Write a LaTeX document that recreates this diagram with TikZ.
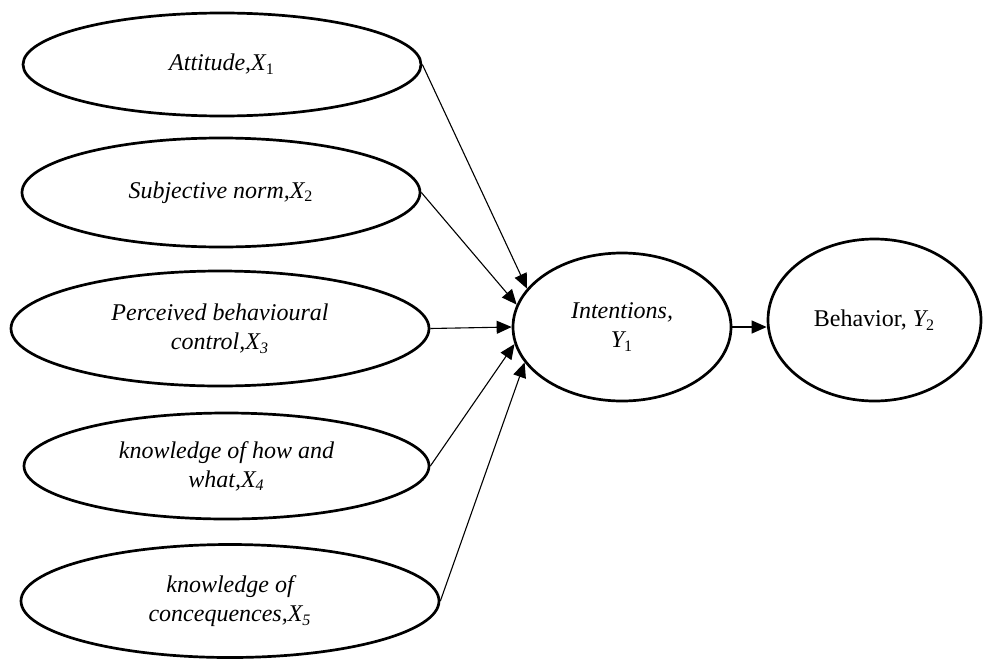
\documentclass[tikz,border=0pt]{standalone}
\usepackage{fontspec}
\setmainfont{Liberation Serif}
\usetikzlibrary{shapes.geometric,arrows.meta}

\begin{document}
\begin{tikzpicture}[x=0.5pt,y=-0.5pt,
    factor/.style={draw,ellipse,line width=1.35pt,inner sep=0pt,align=center,font=\fontsize{12}{14.5}\selectfont\itshape},
    link/.style={-{Triangle[length=7.5pt,width=6.5pt]},line width=0.55pt}]
    \useasboundingbox (0,0) rectangle (983,664);
    \node[factor,minimum width=199pt,minimum height=51.5pt] (att) at (222,64.5) {Attitude,X\textsubscript{\upshape 1}};
    \node[factor,minimum width=199pt,minimum height=54.5pt] (sub) at (221,192.5) {Subjective norm,X\textsubscript{\upshape 2}};
    \node[factor,minimum width=209pt,minimum height=57.5pt] (pbc) at (220,328.5) {Perceived behavioural\\control,X\textsubscript{3}};
    \node[factor,minimum width=202.5pt,minimum height=53pt] (kha) at (226.5,466) {knowledge of how and\\what,X\textsubscript{4}};
    \node[factor,minimum width=209pt,minimum height=56.5pt] (kco) at (230,601) {knowledge of\\concequences,X\textsubscript{5}};
    \node[factor,minimum width=109pt,minimum height=74pt] (int) at (622,327) {Intentions,\\Y\textsubscript{\upshape 1}};
    \node[factor,minimum width=106.5pt,minimum height=81pt] (beh) at (874.5,320) {{\upshape Behavior, }Y\textsubscript{\upshape 2}};

    \draw[link] (att.east) -- (int.158);
    \draw[link] (sub.east) -- (int.168);
    \draw[link] (pbc.east) -- (int.west);
    \draw[link] (kha.east) -- (int.189);
    \draw[link] (kco.east) -- (int.200);
    \draw[link] (int.east) -- (int.east -| beh.west);
\end{tikzpicture}
\end{document}
